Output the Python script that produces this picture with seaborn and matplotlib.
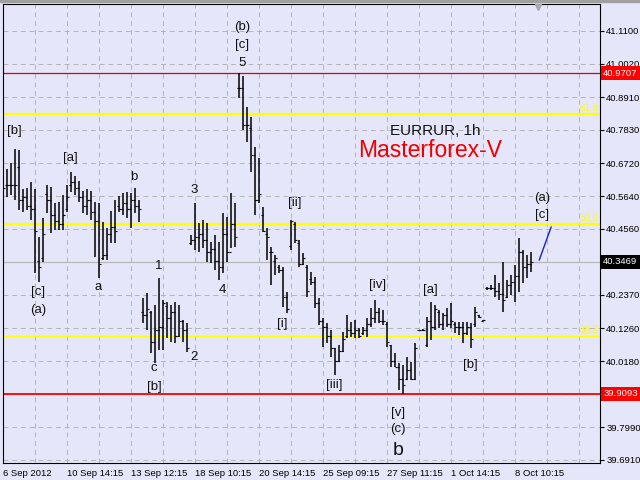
import numpy as np
import pandas as pd
import matplotlib
matplotlib.use('Agg')
import matplotlib.pyplot as plt
import matplotlib.transforms as mtransforms
from matplotlib.patches import Rectangle
import seaborn as sns

# ----------------------------------------------------------------------------
# EURRUR 1h bars
# ----------------------------------------------------------------------------
high = [40.677, 40.653, 40.673, 40.720, 40.716, 40.587, 40.591, 40.611, 40.587, 40.428,
        40.491, 40.601, 40.594, 40.541, 40.544, 40.567, 40.601, 40.643, 40.630, 40.614,
        40.580, 40.587, 40.580, 40.544, 40.541, 40.478, 40.458, 40.514, 40.551, 40.564,
        40.574, 40.577, 40.574, 40.591, 40.551, 40.227, 40.243, 40.184, 40.204, 40.293,
        40.220, 40.213, 40.204, 40.213, 40.204, 40.154, 40.144, 40.435, 40.541, 40.475,
        40.485, 40.475, 40.412, 40.435, 40.412, 40.508, 40.495, 40.574, 40.541, 40.971,
        40.961, 40.858, 40.825, 40.726, 40.690, 40.528, 40.458, 40.395, 40.369, 40.336,
        40.329, 40.247, 40.485, 40.478, 40.419, 40.376, 40.336, 40.313, 40.296, 40.227,
        40.161, 40.144, 40.121, 40.061, 40.071, 40.114, 40.171, 40.147, 40.154, 40.127,
        40.131, 40.161, 40.194, 40.220, 40.194, 40.187, 40.147, 40.071, 40.045, 40.012,
        40.005, 40.032, 40.015, 40.078, 40.121, 40.124, 40.164, 40.213, 40.204, 40.187,
        40.177, 40.194, 40.210, 40.147, 40.147, 40.147, 40.147, 40.144, 40.197, 40.171,
        40.154, 40.263, 40.270, 40.303, 40.276, 40.346, 40.286, 40.303, 40.336, 40.425,
        40.386, 40.369, 40.379]
low = [40.544, 40.561, 40.567, 40.551, 40.518, 40.511, 40.518, 40.485, 40.309, 40.280,
       40.346, 40.508, 40.442, 40.452, 40.452, 40.452, 40.511, 40.577, 40.567, 40.544,
       40.508, 40.501, 40.485, 40.362, 40.293, 40.352, 40.352, 40.409, 40.409, 40.511,
       40.501, 40.491, 40.458, 40.508, 40.478, 40.144, 40.121, 40.045, 40.012, 40.055,
       40.055, 40.094, 40.081, 40.078, 40.098, 40.081, 40.048, 40.402, 40.386, 40.379,
       40.392, 40.346, 40.342, 40.319, 40.286, 40.309, 40.346, 40.392, 40.395, 40.889,
       40.782, 40.743, 40.643, 40.501, 40.541, 40.445, 40.352, 40.270, 40.303, 40.309,
       40.197, 40.177, 40.386, 40.409, 40.329, 40.336, 40.230, 40.270, 40.194, 40.137,
       40.065, 40.078, 40.032, 39.972, 40.015, 40.048, 40.094, 40.098, 40.094, 40.094,
       40.104, 40.098, 40.131, 40.144, 40.144, 40.137, 40.065, 39.999, 39.999, 39.922,
       39.909, 39.955, 39.955, 39.955, 40.117, 40.117, 40.065, 40.088, 40.121, 40.127,
       40.121, 40.131, 40.127, 40.111, 40.104, 40.078, 40.104, 40.061, 40.131, 40.161,
       40.151, 40.253, 40.253, 40.230, 40.220, 40.180, 40.227, 40.237, 40.213, 40.247,
       40.276, 40.293, 40.313]
open_ = [40.56, 40.60, 40.60, 40.60, 40.66, 40.55, 40.56, 40.53, 40.52, 40.35,
         40.36, 40.57, 40.55, 40.50, 40.48, 40.47, 40.52, 40.60, 40.61, 40.59,
         40.56, 40.53, 40.55, 40.51, 40.48, 40.36, 40.37, 40.44, 40.46, 40.53,
         40.52, 40.54, 40.52, 40.55, 40.53, 40.18, 40.17, 40.18, 40.08, 40.12,
         40.13, 40.20, 40.16, 40.18, 40.10, 40.15, 40.12, 40.41, 40.42, 40.43,
         40.44, 40.42, 40.38, 40.39, 40.35, 40.33, 40.44, 40.38, 40.47, 40.92,
         40.92, 40.80, 40.79, 40.70, 40.55, 40.50, 40.44, 40.38, 40.35, 40.33,
         40.32, 40.23, 40.40, 40.47, 40.41, 40.34, 40.33, 40.29, 40.28, 40.21,
         40.15, 40.13, 40.10, 40.06, 40.02, 40.05, 40.10, 40.12, 40.11, 40.12,
         40.11, 40.12, 40.14, 40.16, 40.18, 40.15, 40.14, 40.07, 40.02, 40.00,
         39.96, 39.96, 39.99, 39.96, 40.12, 40.12, 40.07, 40.15, 40.13, 40.18,
         40.14, 40.17, 40.14, 40.14, 40.13, 40.13, 40.11, 40.13, 40.14, 40.17,
         40.152, 40.26, 40.26, 40.26, 40.25, 40.24, 40.23, 40.27, 40.28, 40.30,
         40.38, 40.33, 40.34]
close = [40.59, 40.60, 40.60, 40.60, 40.55, 40.56, 40.53, 40.52, 40.45, 40.33,
         40.44, 40.55, 40.50, 40.48, 40.47, 40.50, 40.56, 40.61, 40.59, 40.56,
         40.53, 40.55, 40.51, 40.48, 40.34, 40.37, 40.44, 40.46, 40.45, 40.52,
         40.54, 40.52, 40.55, 40.53, 40.52, 40.17, 40.19, 40.08, 40.12, 40.13,
         40.21, 40.16, 40.18, 40.10, 40.15, 40.12, 40.06, 40.42, 40.43, 40.44,
         40.42, 40.38, 40.39, 40.35, 40.33, 40.44, 40.38, 40.47, 40.43, 40.92,
         40.80, 40.80, 40.70, 40.55, 40.57, 40.45, 40.43, 40.38, 40.36, 40.32,
         40.23, 40.19, 40.48, 40.42, 40.34, 40.36, 40.25, 40.28, 40.21, 40.15,
         40.13, 40.10, 40.06, 40.02, 40.05, 40.09, 40.12, 40.11, 40.12, 40.10,
         40.12, 40.14, 40.16, 40.18, 40.15, 40.15, 40.08, 40.02, 40.00, 39.96,
         39.94, 39.99, 39.96, 40.06, 40.12, 40.12, 40.15, 40.13, 40.19, 40.14,
         40.17, 40.14, 40.15, 40.13, 40.13, 40.11, 40.13, 40.09, 40.18, 40.165,
         40.153, 40.26, 40.26, 40.25, 40.24, 40.22, 40.27, 40.28, 40.30, 40.38,
         40.33, 40.34, 40.347]

date_labels = ['6 Sep 2012', '10 Sep 14:15', '13 Sep 12:15', '18 Sep 10:15',
               '20 Sep 14:15', '25 Sep 09:15', '27 Sep 11:15', '1 Oct 14:15',
               '8 Oct 10:15']
date_bars = [0, 16, 32, 48, 64, 80, 96, 112, 128]

price_ticks = [41.1100, 41.0020, 40.8910, 40.7830, 40.6720, 40.5640, 40.4560,
               40.3469, 40.2370, 40.1260, 40.0180, 39.9093, 39.7990, 39.6910]

top_level = 40.9707
bottom_level = 39.9093
last_price = 40.3469
fib_names = ['61.8', '50.0', '38.2']
fib_values = [40.834, 40.470, 40.102]

# projected wave line
proj_x = [134, 137]
proj_y = [40.352, 40.462]

# wave labels (text, bar, price)
wave_text = ['[b]', '[a]', 'b', '3', '(b)', '[c]', '5', '[ii]', '[c]', '(a)', 'a',
             '1', '4', '[i]', 'c', '[b]', '2', '[iii]', '[iv]', '[a]', '[b]', '[v]',
             '(c)', '(a)', '[c]']
wave_x = [2.7, 16.7, 32.7, 47.7, 59.7, 59.7, 59.7, 72.9, 8.7, 8.7, 23.7,
          38.9, 54.7, 69.7, 37.7, 37.7, 47.7, 82.7, 93.7, 106.7, 116.7, 98.7,
          98.7, 134.7, 134.7]
wave_y = [40.779, 40.690, 40.627, 40.584, 41.123, 41.064, 41.004, 40.541, 40.247,
          40.187, 40.263, 40.333, 40.253, 40.141, 39.995, 39.932, 40.032, 39.939,
          40.270, 40.253, 40.005, 39.846, 39.793, 40.557, 40.501]

# ----------------------------------------------------------------------------
# Style
# ----------------------------------------------------------------------------
bg = '#E6E6FA'
sns.set_style('white', rc={'axes.facecolor': bg, 'figure.facecolor': bg,
                           'axes.edgecolor': 'black'})
plt.rcParams['font.family'] = ['Liberation Sans', 'DejaVu Sans']

df = pd.DataFrame({'open': open_, 'high': high, 'low': low, 'close': close})
df['bar'] = np.arange(len(df))

fig = plt.figure(figsize=(6.4, 4.8), dpi=100)
ax = fig.add_axes([2.7 / 640, 17 / 480, 597.3 / 640, 459.5 / 480])
ax.set_xlim(-0.15, 149.2)
ax.set_ylim(39.681, 41.2009)

# grid
for v in price_ticks:
    ax.axhline(v, color='#B4B4B4', lw=0.7, ls=(0, (5, 4)), zorder=0)
for b in range(8, 149, 8):
    ax.axvline(b, color='#B4B4B4', lw=0.7, ls=(0, (5, 4)), zorder=0)

# levels
ax.axhline(top_level, color='#E00000', lw=0.9, zorder=1)
ax.axhline(bottom_level, color='#FF0000', lw=1.3, zorder=1)
ax.axhline(last_price, color='#B8B8B8', lw=0.9, zorder=1)
for name, v, w in zip(fib_names, fib_values, [1.6, 1.6, 0.9]):
    ax.axhline(v, color='#FFFF00', lw=w, zorder=1)
    ax.text(148.8, v + 0.004, name, color='#FFFF00', fontsize=7,
            ha='right', va='bottom', zorder=2)

# OHLC bars
ax.vlines(df['bar'], df['low'], df['high'], color='black', lw=1.1, zorder=3)
ax.hlines(df['open'], df['bar'] - 0.55, df['bar'], color='black', lw=0.8, zorder=3)
ax.hlines(df['close'], df['bar'], df['bar'] + 0.55, color='black', lw=0.8, zorder=3)

sns.lineplot(x=proj_x, y=proj_y, ax=ax, color='#1E1EC8', lw=1.0, zorder=3)

# wave labels
for t, x, y in zip(wave_text, wave_x, wave_y):
    ax.text(x, y, t, fontsize=9.5, color='#111111', ha='center', va='center', zorder=4)
ax.text(98.7, 39.724, 'b', fontsize=14, color='#111111', ha='center', va='center', zorder=4)

ax.text(107.9, 40.779, 'EURRUR, 1h', fontsize=11, color='#111111',
        ha='center', va='center')
ax.text(106.7, 40.716, 'Masterforex-V', fontsize=16.5, color='#F00000',
        ha='center', va='center')

# axes ticks
ax.yaxis.tick_right()
ax.set_yticks(price_ticks)
ax.set_yticklabels(['' if v in (last_price, bottom_level) else f'{v:.4f}'
                    for v in price_ticks])
ax.set_xticks(date_bars)
ax.set_xticklabels(date_labels, ha='left')
ax.tick_params(axis='y', which='both', right=True, length=3, width=0.8,
               pad=1.5, labelsize=6.8, colors='black')
ax.tick_params(axis='x', length=3, width=0.8, pad=1, labelsize=6.8, colors='black')
for sp in ax.spines.values():
    sp.set_linewidth(0.8)
    sp.set_color('black')
ax.set_xlabel('')
ax.set_ylabel('')

# price boxes on the right
trans = mtransforms.blended_transform_factory(ax.transAxes, ax.transData)
for v, fc in [(top_level, '#FF0000'), (bottom_level, '#FF0000'), (last_price, 'black')]:
    ax.text(1.0055, v, f'{v:.4f}', transform=trans, fontsize=6.8, color='white',
            ha='left', va='center', clip_on=False, zorder=5,
            bbox=dict(boxstyle='square,pad=0.25', fc=fc, ec='none'))

# chart shift marker and window strip
ax.plot([133.7], [0.993], marker='v', ms=5, color='#A8A8A8',
        transform=mtransforms.blended_transform_factory(ax.transData, ax.transAxes),
        clip_on=False, zorder=5)
fig.add_artist(Rectangle((0, 1 - 2 / 480), 1, 2 / 480, transform=fig.transFigure,
                         color='#A0A0A0'))

plt.savefig('out.png', dpi=100, facecolor=bg)
plt.close()
